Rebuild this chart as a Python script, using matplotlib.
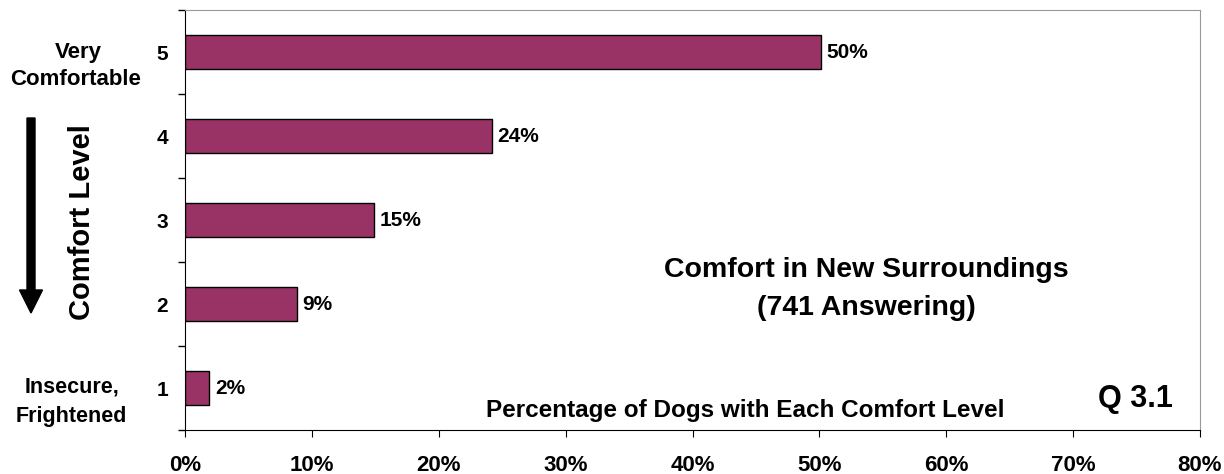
import matplotlib.pyplot as plt
from matplotlib.patches import FancyArrow
from matplotlib.ticker import FixedLocator, PercentFormatter

plt.rcParams['font.family'] = ['Liberation Sans', 'DejaVu Sans']
plt.rcParams['font.weight'] = 'bold'

# comfort levels, bottom to top
levels = ['1', '2', '3', '4', '5']
percent = [1.9, 8.8, 14.9, 24.2, 50.1]
bar_labels = ['2%', '9%', '15%', '24%', '50%']
x_ticks = [0, 10, 20, 30, 40, 50, 60, 70, 80]

W, H = 1224, 474
fig = plt.figure(figsize=(W / 100, H / 100), dpi=100)
ax = fig.add_axes([185 / W, 1 - 430 / H, 1015 / W, 420 / H])


def fx(px):
    return px / W


def fy(py):
    return 1 - py / H


pos = list(range(len(levels)))
ax.barh(pos, percent, height=0.4, color='#993366', edgecolor='black', linewidth=1)
for p, v, lab in zip(pos, percent, bar_labels):
    ax.text(v + 0.45, p, lab, va='center', ha='left', fontsize=15, fontweight='bold')

ax.set_xlim(0, 80)
ax.set_ylim(-0.5, len(levels) - 0.5)
ax.set_xticks(x_ticks)
ax.xaxis.set_major_formatter(PercentFormatter(decimals=0))
ax.set_yticks(pos)
ax.set_yticklabels(levels)
ax.yaxis.set_minor_locator(FixedLocator([i - 0.5 for i in range(len(levels) + 1)]))
ax.tick_params(axis='y', which='major', length=0, pad=12, labelsize=15)
ax.tick_params(axis='y', which='minor', length=5, direction='out', width=1)
ax.tick_params(axis='x', length=5, direction='out', pad=13, labelsize=16)

for s in ['top', 'right']:
    ax.spines[s].set_color('#999999')
for s in ['left', 'bottom']:
    ax.spines[s].set_color('black')

# labels at the ends of the scale
fig.text(fx(78), fy(58), 'Very', ha='center', va='baseline', fontsize=16)
fig.text(fx(76), fy(85), 'Comfortable', ha='center', va='baseline', fontsize=16)
fig.text(fx(72), fy(392), 'Insecure,', ha='center', va='baseline', fontsize=15.5)
fig.text(fx(71), fy(422), 'Frightened', ha='center', va='baseline', fontsize=15.5)

fig.text(fx(82), fy(222), 'Comfort Level', ha='center', va='center',
         rotation=90, fontsize=21)
fig.patches.append(FancyArrow(
    fx(31), fy(118), 0, -(195 / H), width=8 / W,
    head_width=23 / W, head_length=23 / H, length_includes_head=True,
    color='black', transform=fig.transFigure, figure=fig))

# titles inside the plot
fig.text(fx(866), fy(277), 'Comfort in New Surroundings', ha='center', va='baseline',
         fontsize=20.5)
fig.text(fx(866), fy(315), '(741 Answering)', ha='center', va='baseline', fontsize=20.5)
fig.text(fx(745), fy(417), 'Percentage of Dogs with Each Comfort Level',
         ha='center', va='baseline', fontsize=17.5)
fig.text(fx(1135), fy(407), 'Q 3.1', ha='center', va='baseline', fontsize=22)

fig.savefig('out.png', dpi=100)
